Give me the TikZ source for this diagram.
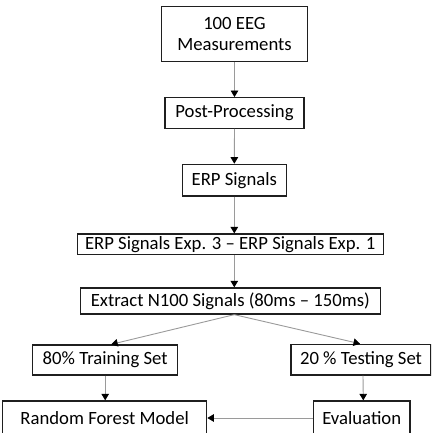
\documentclass[tikz,border=0pt]{standalone}
\usepackage{fontspec}
\setmainfont{Carlito}
\usetikzlibrary{arrows.meta,positioning,calc}
\definecolor{edgec}{HTML}{1F1F1F}
\definecolor{linec}{HTML}{9A9A9A}
\tikzset{
  box/.style={draw=edgec,line width=1.3pt,fill=white,inner sep=0pt,
    align=center,font=\fontsize{18.7}{21}\selectfont},
  flow/.style={-{Triangle[color=black,length=6.5pt,width=7.5pt]},line width=0.9pt,draw=linec},
}
\begin{document}
\begin{tikzpicture}[x=1pt,y=-1pt]
  \clip (0,0) rectangle (431,433);
  \node[box,minimum width=145.6pt,minimum height=54.6pt](meas) at (234.5,34){100 EEG\\Measurements};
  \node[box,minimum width=139pt,minimum height=30.6pt](post) at (234.5,113){Post-Processing};
  \node[box,minimum width=104pt,minimum height=31.7pt](erp) at (234.3,180.2){ERP Signals};
  \node[box,minimum width=306pt,minimum height=20.7pt](diff) at (230.3,244.4){ERP Signals Exp. 3 -- ERP Signals Exp. 1};
  \node[box,minimum width=300pt,minimum height=26pt](nsig) at (230.3,301){Extract N100 Signals (80ms -- 150ms)};
  \node[box,minimum width=145pt,minimum height=30pt](train) at (105.2,360){80\% Training Set};
  \node[box,minimum width=140pt,minimum height=30.7pt](test) at (361,359.7){20 \% Testing Set};
  \node[box,minimum width=204pt,minimum height=34pt](rf) at (104.7,418){Random Forest Model};
  \node[box,minimum width=96.7pt,minimum height=34pt](eval) at (361.7,418){Evaluation};
  % main column
  \draw[flow] (meas.south) -- (post.north);
  \draw[flow] (post.south) -- (erp.north);
  \draw[flow] (erp.south) -- (diff.north -| erp.south);
  \draw[flow] (diff.south -| erp.south) -- (nsig.north -| erp.south);
  % split into the two sets
  \coordinate (split) at (nsig.south -| erp.south);
  \draw[flow] (split) -- ($(train.north)+(6pt,0)$);
  \draw[flow] (split) -- ($(test.north)+(-1pt,0)$);
  \draw[flow] (train.south) -- (rf.north -| train.south);
  \draw[flow] ($(test.south)+(2pt,0)$) -- ($(eval.north)+(1.6pt,0)$);
  \draw[flow] (eval.west) -- (rf.east);
\end{tikzpicture}
\end{document}
